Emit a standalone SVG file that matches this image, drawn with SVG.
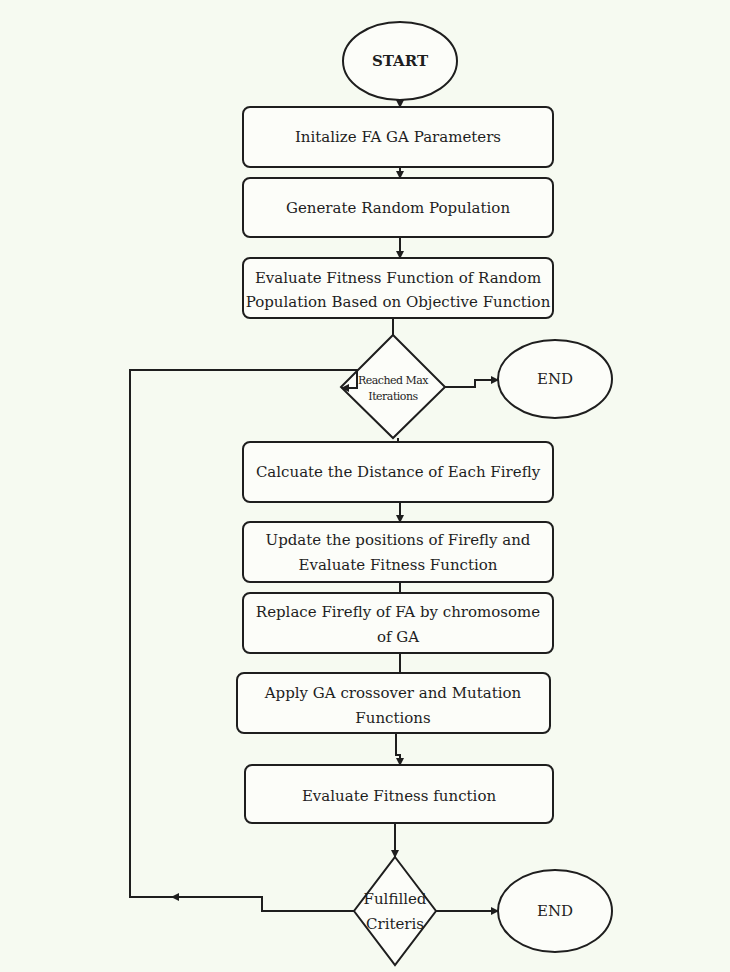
<svg xmlns="http://www.w3.org/2000/svg" width="730" height="972" viewBox="0 0 730 972">
<style>
.box{fill:#fcfdf9;stroke:#1e1e1e;stroke-width:2}
.t{font-family:"DejaVu Serif","Liberation Serif",serif;font-size:15px;fill:#1e1e1e;text-anchor:middle}
.s{font-size:11px;letter-spacing:-0.5px}
.c{fill:none;stroke:#1e1e1e;stroke-width:2}
</style>
<defs>
<marker id="a" markerWidth="8" markerHeight="8" refX="7" refY="4" orient="auto" markerUnits="userSpaceOnUse">
<path d="M0,0 L8,4 L0,8 Z" fill="#1e1e1e"/>
</marker>
</defs>
<rect width="730" height="972" fill="#f6faf1"/>
<g id="start"><ellipse class="box" cx="400" cy="61" rx="57" ry="39"/><text class="t" x="400" y="66" font-weight="bold">START</text></g>
<g id="init"><rect class="box" x="243" y="107" width="310" height="60" rx="7"/><text class="t" x="398" y="142">Initalize FA GA Parameters</text></g>
<g id="gen"><rect class="box" x="243" y="178" width="310" height="59" rx="7"/><text class="t" x="398" y="213">Generate Random Population</text></g>
<g id="eval1"><rect class="box" x="243" y="258" width="310" height="60" rx="7"/><text class="t" x="398" y="283">Evaluate Fitness Function of Random</text><text class="t" x="398" y="307">Population Based on Objective Function</text></g>
<g id="max"><polygon class="box" points="393,335 445,387 393,438 341,387"/><text class="t s" x="393" y="384">Reached Max</text><text class="t s" x="393" y="400">Iterations</text></g>
<g id="end1"><ellipse class="box" cx="555" cy="379" rx="57" ry="39"/><text class="t" x="555" y="384">END</text></g>
<g id="dist"><rect class="box" x="243" y="442" width="310" height="60" rx="7"/><text class="t" x="398" y="477">Calcuate the Distance of Each Firefly</text></g>
<g id="upd"><rect class="box" x="243" y="522" width="310" height="60" rx="7"/><text class="t" x="398" y="545">Update the positions of Firefly and</text><text class="t" x="398" y="570">Evaluate Fitness Function</text></g>
<g id="repl"><rect class="box" x="243" y="593" width="310" height="60" rx="7"/><text class="t" x="398" y="617">Replace Firefly of FA by chromosome</text><text class="t" x="398" y="642">of GA</text></g>
<g id="ga"><rect class="box" x="237" y="673" width="313" height="60" rx="7"/><text class="t" x="393" y="698">Apply GA crossover and Mutation</text><text class="t" x="393" y="723">Functions</text></g>
<g id="eval2"><rect class="box" x="245" y="765" width="308" height="58" rx="7"/><text class="t" x="399" y="801">Evaluate Fitness function</text></g>
<g id="crit"><polygon class="box" points="395,857 436,911 395,965 354,911"/><text class="t" x="395" y="904">Fulfilled</text><text class="t" x="395" y="929">Criteris</text></g>
<g id="end2"><ellipse class="box" cx="555" cy="911" rx="57" ry="41"/><text class="t" x="555" y="916">END</text></g>
<g id="connectors">
<line class="c" x1="400" y1="100" x2="400" y2="107" marker-end="url(#a)"/>
<line class="c" x1="400" y1="167" x2="400" y2="178" marker-end="url(#a)"/>
<line class="c" x1="400" y1="237" x2="400" y2="258" marker-end="url(#a)"/>
<line class="c" x1="393" y1="318" x2="393" y2="335"/>
<polyline class="c" points="445,387 475,387 475,380 498,380" marker-end="url(#a)"/>
<line class="c" x1="398" y1="438" x2="398" y2="442"/>
<line class="c" x1="400" y1="502" x2="400" y2="522" marker-end="url(#a)"/>
<line class="c" x1="400" y1="582" x2="400" y2="593"/>
<line class="c" x1="400" y1="653" x2="400" y2="673"/>
<polyline class="c" points="396,733 396,755 400,755 400,765" marker-end="url(#a)"/>
<line class="c" x1="395" y1="823" x2="395" y2="857" marker-end="url(#a)"/>
<line class="c" x1="436" y1="911" x2="498" y2="911" marker-end="url(#a)"/>
<polyline class="c" points="354,911 262,911 262,897 172,897" marker-end="url(#a)"/>
<polyline class="c" points="172,897 130,897 130,370 357,370 357,388 342,388" marker-end="url(#a)"/>
</g>
</svg>
